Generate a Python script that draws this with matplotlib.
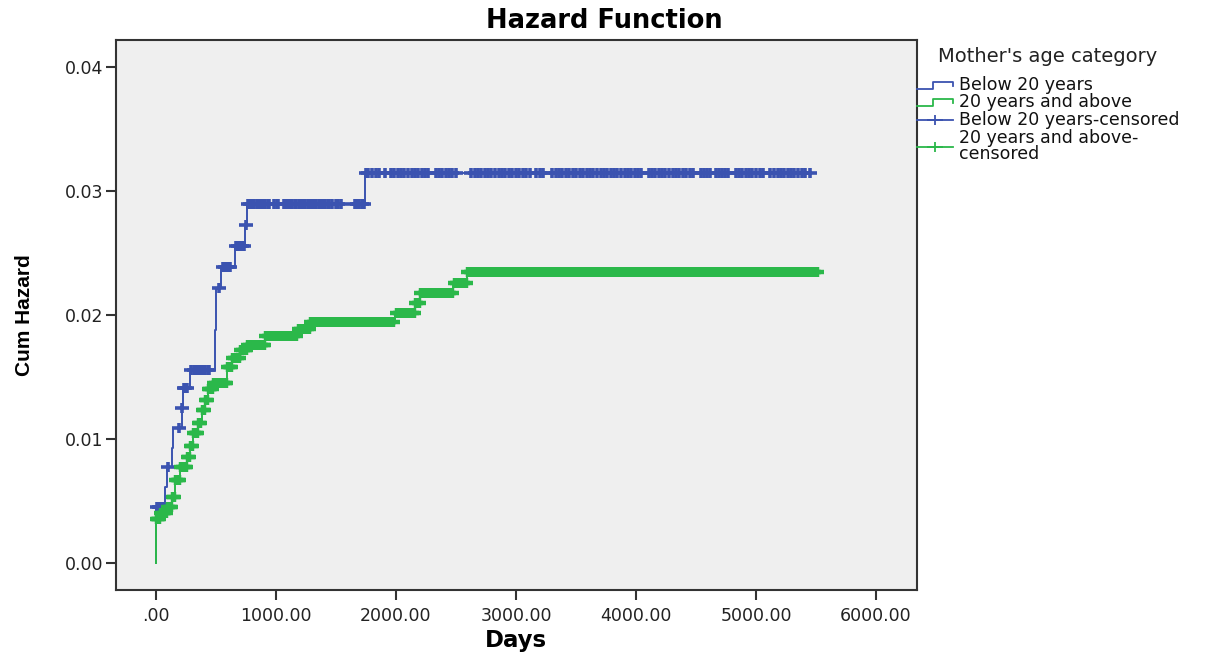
import numpy as np
import matplotlib.pyplot as plt
from matplotlib.path import Path

# cumulative hazard steps (days, cum hazard) for each group
below_days = [0, 3, 75, 92, 133, 142, 217, 225, 283, 492, 495, 498, 502, 542, 658, 742, 758, 1742, 5475]
below_haz = [0, 0.0045, 0.0061, 0.0077, 0.0093, 0.0109, 0.0125, 0.0141, 0.0156, 0.0172,
             0.0188, 0.0206, 0.0222, 0.0239, 0.0256, 0.0273, 0.0290, 0.0315, 0.0315]

above_days = [0, 2, 33, 92, 133, 158, 200, 258, 283, 308, 350, 383, 408, 433, 475, 592, 633,
              700, 758, 908, 1175, 1283, 1992, 2158, 2200, 2475, 2592, 5517]
above_haz = [0, 0.0035, 0.0040, 0.0045, 0.0053, 0.0067, 0.0077, 0.0085, 0.0094, 0.0105, 0.0113,
             0.0123, 0.0131, 0.0140, 0.0145, 0.0158, 0.0165, 0.0172, 0.0176, 0.0183, 0.0189,
             0.0194, 0.0202, 0.0210, 0.0218, 0.0226, 0.0235, 0.0235]

# censored cases (days)
below_cens = [10, 22, 35, 50, 62, 100, 192, 220, 232, 245, 258, 290, 320, 333, 345, 358, 370,
              385, 398, 412, 430, 445, 525, 560, 575, 590, 605, 620, 670, 685, 700, 715, 730,
              748,
              765, 785, 800, 820, 840, 855, 875, 890, 910, 930, 945, 985, 1005, 1020, 1065,
              1080, 1100, 1120, 1135, 1155, 1170, 1190, 1210, 1225, 1245, 1265, 1280, 1300,
              1320, 1335, 1355, 1375, 1390, 1410, 1430, 1445, 1465, 1500, 1520, 1540, 1655,
              1675, 1695, 1715, 1730,
              1750, 1770, 1800, 1830, 1855, 1905, 1960, 1985, 2015, 2045, 2070, 2100, 2130,
              2160, 2185, 2215, 2245, 2270, 2330, 2355, 2385, 2415, 2445, 2470, 2500, 2625,
              2655, 2680, 2710, 2740, 2770, 2795, 2825, 2855, 2885, 2910, 2940, 2970, 3000,
              3025, 3055, 3085, 3115, 3170, 3200, 3225, 3300, 3330, 3360, 3385, 3415, 3445,
              3475, 3500, 3530, 3560, 3590, 3615, 3645, 3675, 3705, 3730, 3760, 3790, 3820,
              3845, 3875, 3905, 3935, 3960, 3990, 4020, 4045, 4105, 4130, 4160, 4190, 4220,
              4245, 4275, 4305, 4335, 4360, 4390, 4420, 4450, 4475, 4540, 4565, 4595, 4620,
              4665, 4690, 4720, 4745, 4770, 4830, 4855, 4885, 4915, 4945, 4970, 5000, 5030,
              5060, 5120, 5150, 5180, 5205, 5235, 5265, 5295, 5320, 5350, 5380, 5410, 5450]

above_cens = [5, 15, 25, 40, 55, 70, 85, 100, 115, 125, 140, 150, 165, 180, 192, 210, 225, 240,
              250, 265, 275, 290, 300, 315, 330, 342, 358, 370, 390, 400, 415, 425, 440, 452,
              465, 485, 500, 515, 530, 545, 560, 575, 585, 600, 615, 625, 645, 660, 675, 690,
              710, 725, 740, 750, 770, 785, 800, 815, 830, 845, 860, 875, 890, 900,
              920, 945, 970, 995, 1020, 1045, 1070, 1095, 1120, 1145, 1165,
              1188, 1212, 1238, 1262, 1278,
              1295, 1320, 1345, 1372, 1398, 1425, 1450, 1476, 1503, 1530, 1555, 1580, 1607,
              1633, 1660, 1685, 1712, 1738, 1765, 1790, 1815, 1842, 1868, 1895, 1920, 1946,
              1972, 2005, 2030, 2055, 2080, 2105, 2130, 2150, 2170, 2190,
              2212, 2238, 2263, 2290, 2315, 2340, 2366, 2392, 2418, 2444, 2466,
              2488, 2512, 2537, 2562, 2585,
              2600, 2628, 2655, 2683, 2712, 2740, 2768, 2795, 2823, 2852, 2880, 2908, 2935,
              2963, 2992, 3020, 3048, 3075, 3103, 3132, 3160, 3188, 3215, 3243, 3272, 3300,
              3328, 3355, 3383, 3412, 3440, 3468, 3495, 3523, 3552, 3580, 3608, 3635, 3663,
              3692, 3720, 3748, 3775, 3803, 3832, 3860, 3888, 3915, 3943, 3972, 4000, 4028,
              4055, 4083, 4112, 4140, 4168, 4195, 4223, 4252, 4280, 4308, 4335, 4363, 4392,
              4420, 4448, 4475, 4503, 4532, 4560, 4588, 4615, 4643, 4672, 4700, 4728, 4755,
              4783, 4812, 4840, 4868, 4895, 4923, 4952, 4980, 5008, 5035, 5063, 5092, 5120,
              5148, 5175, 5203, 5232, 5260, 5288, 5315, 5343, 5372, 5400, 5428, 5455, 5483,
              5510]

groups = ["Below 20 years", "20 years and above"]
colors = ["#3b53b0", "#2bb84a"]

x_ticks = [0, 1000, 2000, 3000, 4000, 5000, 6000]
y_ticks = [0.00, 0.01, 0.02, 0.03, 0.04]


def level_at(days, haz, t):
    idx = np.searchsorted(days, t, side="right") - 1
    return np.asarray(haz)[idx]


# wide, flat "+" used for censored cases
plus = Path([(-1, 0), (1, 0), (0, -0.68), (0, 0.68)],
            [Path.MOVETO, Path.LINETO, Path.MOVETO, Path.LINETO])

plt.rcParams['font.family'] = ['DejaVu Sans']
fig = plt.figure(figsize=(12.25, 6.56), dpi=100)
ax = fig.add_axes([0.0947, 0.1006, 0.6539, 0.8384])
ax.set_facecolor("#efefef")

data = [(below_days, below_haz, below_cens), (above_days, above_haz, above_cens)]
for (d, h, c), col, mw in zip(data, colors, [2.6, 3.2]):
    ax.step(d, h, where="post", color=col, lw=1.4, zorder=2)
    cd = np.array(c)
    ax.plot(cd, level_at(d, h, cd), ls="none", marker=plus, ms=10.5,
            mew=mw, color=col, zorder=3)

ax.set_xlim(-333, 6342)
ax.set_ylim(-0.0022, 0.0422)
ax.set_xticks(x_ticks)
ax.set_xticklabels([f"{v:.2f}".lstrip("0") if v == 0 else f"{v:.2f}" for v in x_ticks])
ax.set_yticks(y_ticks)
ax.set_yticklabels([f"{v:.2f}" for v in y_ticks])
ax.tick_params(direction="out", length=7, width=1.5, colors="#333333",
               labelsize=12.5, labelcolor="#222222")
ax.tick_params(axis="x", pad=5)
ax.tick_params(axis="y", pad=2)
for s in ax.spines.values():
    s.set_color("#333333")
    s.set_linewidth(1.5)

fig.text(604 / 1225, 1 - 21 / 656, "Hazard Function", ha="center", va="center",
         fontsize=18.5, fontweight="bold")
fig.text(516 / 1225, 1 - 640 / 656, "Days", ha="center", va="center",
         fontsize=16.5, fontweight="bold")
fig.text(25 / 1225, 1 - 315 / 656, "Cum Hazard", ha="center", va="center", rotation=90,
         fontsize=15, fontweight="bold",
         family=["Liberation Sans Narrow", "Liberation Sans"])

# legend drawn in pixel coordinates to the right of the plot
lax = fig.add_axes([0, 0, 1, 1])
lax.set_xlim(0, 1225)
lax.set_ylim(656, 0)
lax.axis("off")
lax.text(938, 57, "Mother's age category", ha="left", va="center", fontsize=14,
         color="#222222")
for yy, col in zip([89, 106], colors):
    lax.plot([917, 933, 933, 953, 953], [yy, yy, yy - 7, yy - 7, yy - 3], color=col, lw=1.3)
for yy, col in zip([120, 147], colors):
    lax.plot([917, 953], [yy, yy], color=col, lw=1.3)
    lax.plot([935], [yy], marker=plus, ms=11, mew=1.3, color=col)
labels = [groups[0], groups[1], groups[0] + "-censored", groups[1] + "-\ncensored"]
for yy, lab in zip([85, 102, 120, 146], labels):
    lax.text(959, yy, lab, ha="left", va="center", fontsize=12.5, color="#111111",
             linespacing=0.9)

fig.savefig("out.png", dpi=100)
